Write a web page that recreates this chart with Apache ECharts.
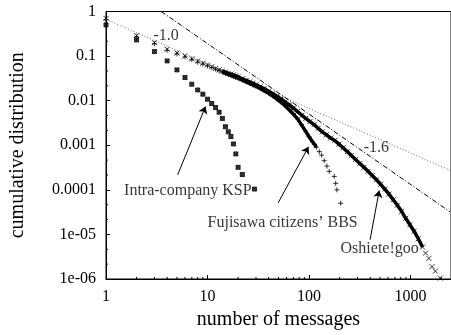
<!DOCTYPE html>
<html><head><meta charset="utf-8">
<script src="https://cdn.jsdelivr.net/npm/echarts/dist/echarts.min.js"></script>
<style>html,body{margin:0;padding:0;background:#fff}#c{width:451px;height:335px}</style>
</head><body><div id="c"></div>
<script>
// ---- tick labels ----
const xTickLabels = ['1', '10', '100', '1000'];
const yTickLabels = ['1e-06', '1e-05', '0.0001', '0.001', '0.01', '0.1', '1'];
const xMinorTicks = [2,3,4,5,6,7,8,9, 20,30,40,50,60,70,80,90, 200,300,400,500,600,700,800,900, 2000];
const yMinorTicks = [2.154e-6,4.642e-6, 2.154e-5,4.642e-5, 2.154e-4,4.642e-4, 2.154e-3,4.642e-3, 0.02154,0.04642, 0.2154,0.4642];

// ---- Intra-company KSP ----
const kspX = [1,2,3,4,5,6,7,8,9,10,11,12,13,14,15,16,17,18,19,20,22,29];
const kspY = [0.50,0.23,0.126,0.078,0.049,0.033,0.0234,0.0174,0.0140,0.0108,0.0086,0.0070,0.0055,0.0040,0.0026,0.0020,0.00157,0.00107,0.00064,0.00032,0.00022,0.000104];

// ---- Fujisawa citizens' BBS ----
const fujiX = [1,2,3,4,5,6,7,8,9,10,11,12,13,14,15,16,17,18,19,20,22,24,26,28,30,33,36,40,44,48,53,58,64,70,77,84,92,100,108,113,118,126,133,141,150,158,177,183,188,205];
const fujiY = [0.66,0.27,0.19,0.135,0.112,0.096,0.083,0.073,0.066,0.060,0.055,0.051,0.047,0.044,0.041,0.039,0.037,0.035,0.0335,0.032,0.029,0.0265,0.0245,0.0225,0.021,0.0188,0.0168,0.0146,0.0127,0.011,0.0092,0.0077,0.0062,0.0050,0.0039,0.0029,0.0021,0.00155,0.0012,0.00105,0.0009,0.00072,0.0006,0.00045,0.00034,0.00026,0.0002,0.00014,0.0001,0.00005];

// ---- Oshiete!goo ----
const oshiX = [1,2,3,4,5,6,7,8,9,10,11,12,13,14,15,16,17,18,19,20,22,24,26,28,30,33,36,40,44,48,53,58,64,70,77,85,93,102,112,123,135,148,163,179,197,216,238,261,287,316,347,381,419,461,507,557,613,674,741,815,896,985,1083,1191,1310,1404,1513,1626,1753,1959];
const oshiY = [0.70,0.29,0.20,0.142,0.117,0.100,0.087,0.077,0.069,0.063,0.058,0.053,0.049,0.046,0.0435,0.041,0.0395,0.038,0.036,0.034,0.031,0.0285,0.0265,0.0246,0.0228,0.0205,0.0187,0.0162,0.0143,0.0126,0.0109,0.0094,0.0080,0.0068,0.0057,0.0047,0.0040,0.0034,0.0029,0.0024,0.0020,0.00172,0.00145,0.00128,0.00106,0.00088,0.00072,0.00059,0.00048,0.00039,0.00032,0.00026,0.00021,0.000168,0.000133,0.000104,0.000080,0.000060,0.000045,0.000033,0.000023,0.0000165,0.0000118,0.0000080,0.0000052,0.0000038,0.0000029,0.0000019,0.0000015,0.00000105];

// ---- reference power-law lines (end points) ----
const slope10X = [1, 2500];
const slope10Y = [0.67, 0.000268];
const slope16X = [3.5, 2450];
const slope16Y = [1.0, 0.000032];

// ---- annotations ----
const noteTexts = ['Intra-company KSP', 'Fujisawa citizens\u2019 BBS', 'Oshiete!goo', '-1.0', '-1.6'];
const noteX = [1.49, 9.89, 202, 2.90, 342];
const noteY = [9.75e-5, 1.87e-5, 4.7e-6, 0.29, 8.7e-4];
const arrowFromX = [5.08, 49.6, 399];
const arrowFromY = [0.000217, 5.1e-5, 7.6e-6];
const arrowToX = [9.55, 98.7, 491];
const arrowToY = [0.00736, 9.2e-4, 9.66e-5];

const FONT = 'Liberation Serif';
const zip = (a, b) => a.map((v, i) => [v, b[i]]);
const range = (xs, ys, lo, hi) => zip(xs, ys).filter(p => p[0] >= lo && p[0] <= hi);

const symX = 'path://M0,0L10,10M0,10L10,0';
const symPlus = 'path://M5,0L5,10M0,5L10,5';
const symBox = 'path://M0,0L10,0L10,10L0,10ZM0,0L10,10M0,10L10,0';
const markerStyle = {color: 'none', borderColor: '#000', borderWidth: 1};

const chart = echarts.init(document.getElementById('c'), null, {renderer: 'canvas'});
chart.setOption({
  animation: false,
  backgroundColor: '#fff',
  grid: {left: 100, top: 11.5, width: 352.7, height: 268, show: true, borderColor: '#000', borderWidth: 1, backgroundColor: 'transparent'},
  xAxis: {
    type: 'log', logBase: 10, min: 1, max: 2500,
    name: 'number of messages', nameLocation: 'middle', nameGap: 31,
    nameTextStyle: {fontFamily: FONT, fontSize: 20, color: '#000'},
    axisLine: {lineStyle: {color: '#000', width: 1}},
    axisTick: {inside: true, length: 4, lineStyle: {color: '#000'}},
    axisLabel: {fontFamily: FONT, fontSize: 16, color: '#000', margin: 10, showMaxLabel: false,
      formatter: v => { const k = Math.round(Math.log10(v)); return Math.abs(Math.log10(v) - k) < 1e-6 ? (xTickLabels[k] || '') : ''; }},
    splitLine: {show: false}
  },
  yAxis: {
    type: 'log', logBase: 10, min: 1e-6, max: 1,
    name: 'cumulative distribution', nameLocation: 'middle', nameGap: 78,
    nameTextStyle: {fontFamily: FONT, fontSize: 20, color: '#000'},
    axisLine: {lineStyle: {color: '#000', width: 1}},
    axisTick: {inside: true, length: 4, lineStyle: {color: '#000'}},
    axisLabel: {fontFamily: FONT, fontSize: 16, color: '#000', margin: 10,
      formatter: v => { const k = Math.round(Math.log10(v)) + 6; return yTickLabels[k] || ''; }},
    splitLine: {show: false}
  },
  series: [
    // minor ticks
    {type: 'custom', silent: true, clip: false, z: 5,
      data: xMinorTicks.map(v => [v, 1e-6]),
      renderItem: (p, api) => { const c = api.coord([api.value(0), api.value(1)]);
        return {type: 'line', shape: {x1: c[0], y1: c[1], x2: c[0], y2: c[1] - 2}, style: {stroke: '#000', lineWidth: 1}}; }},
    {type: 'custom', silent: true, clip: false, z: 5,
      data: yMinorTicks.map(v => [1, v]),
      renderItem: (p, api) => { const c = api.coord([api.value(0), api.value(1)]);
        return {type: 'line', shape: {x1: c[0], y1: c[1], x2: c[0] + 2, y2: c[1]}, style: {stroke: '#000', lineWidth: 1}}; }},
    // reference lines
    {type: 'line', data: zip(slope10X, slope10Y), symbol: 'none', silent: true,
      lineStyle: {color: '#666', width: 1, type: [1, 2]}},
    {type: 'line', data: zip(slope16X, slope16Y), symbol: 'none', silent: true,
      lineStyle: {color: '#000', width: 1, type: [5, 2, 1, 2]}},
    // dense bands
    {type: 'line', data: range(oshiX, oshiY, 14, 1310), symbol: 'none', silent: true,
      lineStyle: {color: '#000', width: 3.5}},
    {type: 'line', data: range(fujiX, fujiY, 14, 118), symbol: 'none', silent: true,
      lineStyle: {color: '#000', width: 3.5}},
    // markers
    {type: 'scatter', data: zip(oshiX, oshiY), symbol: symX, symbolSize: 5, itemStyle: markerStyle},
    {type: 'scatter', data: zip(fujiX, fujiY), symbol: symPlus, symbolSize: 5, itemStyle: markerStyle},
    {type: 'scatter', data: zip(kspX, kspY), symbol: symBox, symbolSize: 4,
      itemStyle: {color: '#333', borderColor: '#000', borderWidth: 1}},
    // annotations
    {type: 'scatter', silent: true, symbolSize: 1, itemStyle: {color: 'transparent'},
      data: noteX.map((x, i) => [x, noteY[i]]),
      label: {show: true, position: 'right', distance: 0, fontFamily: FONT, fontSize: 16, color: '#000',
        formatter: p => noteTexts[p.dataIndex]}},
    // arrows
    {type: 'line', data: [], silent: true,
      markLine: {silent: true, symbol: ['none', 'arrow'], symbolSize: 7, label: {show: false},
        lineStyle: {color: '#000', width: 1, type: 'solid'},
        data: arrowFromX.map((x, i) => [{coord: [x, arrowFromY[i]]}, {coord: [arrowToX[i], arrowToY[i]]}])}}
  ]
});
</script></body></html>
